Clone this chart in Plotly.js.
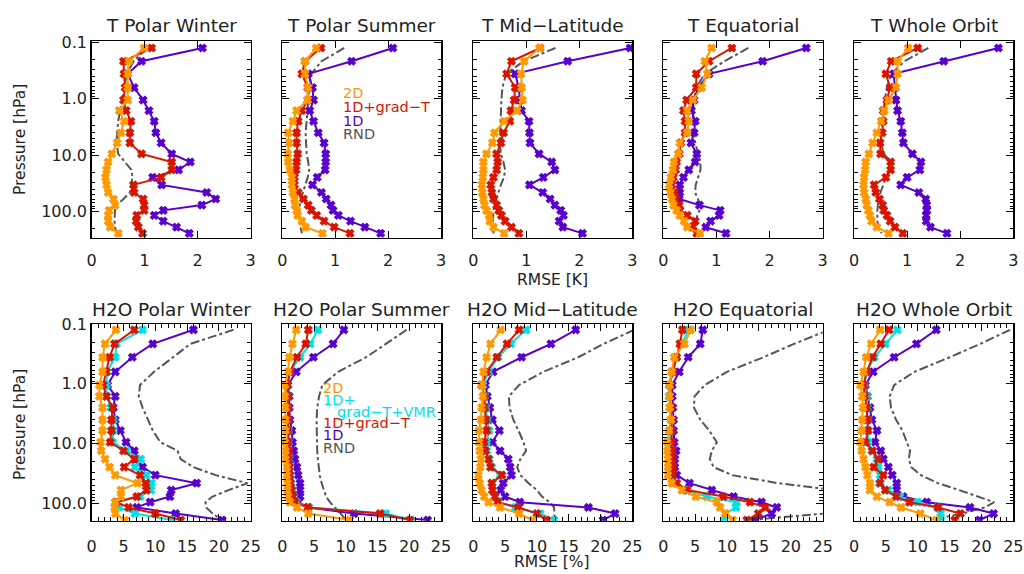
<!DOCTYPE html>
<html><head><meta charset="utf-8">
<script src="https://cdn.plot.ly/plotly-3.0.1.min.js"></script>
<style>html,body{margin:0;padding:0;background:#fff}#c{width:1024px;height:574px}</style>
</head><body><div id="c"></div>
<script>
// Pressure levels [hPa]
const P = [0.125,0.215,0.36,0.63,1.05,1.62,2.5,4.0,6.05,9.5,13.2,18.2,24.8,33.7,46,60,77,95.5,117,148,190,244];
const PH = P.slice(0,21);

const panelTitles = ["T Polar Winter","T Polar Summer","T Mid\u2212Latitude","T Equatorial","T Whole Orbit",
  "H2O Polar Winter","H2O Polar Summer","H2O Mid\u2212Latitude","H2O Equatorial","H2O Whole Orbit"];
const seriesNames = ["2D","1D+grad\u2212T+VMR","1D+grad\u2212T","1D","RND"];

// Temperature RMSE [K]
const T_PW_2D  = [0.99,0.70,0.68,0.68,0.68,0.52,0.61,0.55,0.48,0.38,0.31,0.28,0.26,0.28,0.31,0.41,0.44,0.33,0.31,0.31,0.35,0.50];
const T_PW_1DG = [1.13,0.60,0.61,0.63,0.60,0.65,0.74,0.72,0.72,0.94,1.51,1.51,1.31,0.79,0.80,0.97,0.99,0.99,0.85,0.84,0.88,0.96];
const T_PW_1D  = [2.09,0.94,0.68,0.80,0.97,1.08,1.18,1.21,1.31,1.51,1.86,1.64,1.15,1.32,2.17,2.34,2.08,1.35,1.18,1.35,1.60,1.84];
const T_PW_RND = [1.04,0.79,0.66,0.61,0.57,0.53,0.50,0.48,0.47,0.50,0.63,0.75,0.77,0.75,0.72,0.60,0.47,0.44,0.43,0.43,0.44,0.47];

const T_PS_2D  = [0.64,0.43,0.43,0.49,0.48,0.27,0.20,0.11,0.13,0.10,0.11,0.14,0.18,0.18,0.20,0.23,0.24,0.27,0.29,0.37,0.44,0.76];
const T_PS_1DG = [0.73,0.43,0.37,0.48,0.48,0.37,0.30,0.27,0.27,0.29,0.27,0.26,0.23,0.23,0.30,0.40,0.49,0.55,0.65,0.79,0.98,1.28];
const T_PS_1D  = [2.09,1.31,0.49,0.57,0.59,0.52,0.59,0.68,0.79,0.82,0.82,0.81,0.66,0.57,0.74,0.83,0.92,0.96,1.06,1.29,1.56,1.86];
const T_PS_RND = [1.17,0.74,0.55,0.51,0.49,0.48,0.46,0.44,0.45,0.46,0.49,0.51,0.48,0.43,0.38,0.35,0.33,0.32,0.32,0.32,0.35,0.37];

const T_ML_2D  = [1.25,0.96,0.90,0.91,0.93,0.83,0.58,0.40,0.36,0.25,0.19,0.19,0.18,0.16,0.17,0.19,0.21,0.25,0.30,0.31,0.38,0.58];
const T_ML_1DG = [1.26,0.72,0.63,0.79,0.77,0.71,0.69,0.57,0.52,0.44,0.46,0.44,0.38,0.33,0.35,0.38,0.44,0.48,0.53,0.60,0.72,0.86];
const T_ML_1D  = [2.96,1.78,0.79,0.86,0.88,0.91,1.05,1.06,1.07,1.24,1.48,1.54,1.32,1.06,1.31,1.45,1.54,1.65,1.70,1.62,1.69,2.06];
const T_ML_RND = [1.55,0.95,0.62,0.55,0.53,0.52,0.51,0.50,0.50,0.52,0.57,0.60,0.58,0.52,0.47,0.43,0.40,0.38,0.37,0.37,0.37,0.38];

const T_EQ_2D  = [0.91,0.78,0.83,0.72,0.56,0.45,0.48,0.45,0.31,0.28,0.20,0.18,0.14,0.11,0.13,0.16,0.19,0.25,0.31,0.39,0.45,0.69];
const T_EQ_1DG = [1.29,0.86,0.62,0.62,0.44,0.38,0.41,0.41,0.33,0.30,0.25,0.23,0.19,0.16,0.21,0.23,0.30,0.31,0.45,0.60,0.55,0.63];
const T_EQ_1D  = [2.69,1.87,0.86,0.66,0.58,0.53,0.60,0.58,0.52,0.63,0.60,0.48,0.38,0.31,0.31,0.30,0.68,1.07,1.05,0.89,0.80,1.18];
const T_EQ_RND = [1.60,1.15,0.78,0.62,0.58,0.56,0.56,0.57,0.60,0.65,0.70,0.70,0.66,0.61,0.60,0.65,0.70,0.68,0.64,0.62,0.62,0.62];

const T_WO_2D  = [1.02,0.82,0.82,0.79,0.65,0.57,0.51,0.43,0.35,0.28,0.22,0.21,0.19,0.18,0.19,0.22,0.24,0.27,0.30,0.33,0.43,0.65];
const T_WO_1DG = [1.20,0.70,0.60,0.68,0.62,0.55,0.55,0.53,0.49,0.50,0.69,0.69,0.60,0.38,0.41,0.48,0.54,0.56,0.62,0.68,0.77,0.92];
const T_WO_1D  = [2.72,1.69,0.75,0.77,0.79,0.82,0.88,0.91,0.93,1.10,1.26,1.24,1.00,0.88,1.22,1.35,1.37,1.37,1.36,1.36,1.44,1.75];
const T_WO_RND = [1.40,0.95,0.70,0.62,0.58,0.56,0.53,0.51,0.50,0.57,0.68,0.66,0.60,0.55,0.50,0.47,0.45,0.44,0.44,0.44,0.46,0.52];

// H2O RMSE [%]
const H_PW_2D   = [3.8,2.1,1.7,1.7,1.2,1.2,1.7,1.7,1.7,1.4,1.5,2.1,2.8,3.7,7.2,4.6,4.6,3.7,3.6,3.7,5.2];
const H_PW_1DGV = [8.0,3.9,3.7,2.4,2.3,2.4,3.0,3.4,3.4,3.3,5.5,7.7,6.8,8.6,9.4,9.3,7.6,3.7,4.3,6.8,12.6];
const H_PW_1DG  = [6.7,3.6,2.8,2.3,1.8,2.3,3.3,3.1,3.1,2.9,5.0,6.7,5.1,7.6,8.5,8.6,7.1,3.9,5.8,10.0,14.0];
const H_PW_1D   = [16.0,9.6,6.4,3.7,2.5,3.7,3.4,3.7,4.5,5.4,6.7,7.0,8.0,10.0,16.5,12.5,12.3,9.2,7.1,13.2,20.5];
const H_PW_RND  = [22.3,15.5,12.8,9.8,7.6,7.4,8.0,8.8,9.6,10.8,13.5,14.0,16.0,19.5,24.5,21.5,19.0,17.9,18.0,19.0,20.5];

const H_PS_2D   = [2.2,1.6,1.1,0.9,0.4,0.4,0.5,0.5,0.5,0.4,0.5,0.5,0.7,0.7,0.8,0.8,0.9,1.2,2.3,4.1,10.6];
const H_PS_1DGV = [5.6,4.4,2.8,1.2,0.8,0.9,0.9,0.9,1.0,1.0,1.0,1.1,1.2,1.3,1.4,1.6,1.8,2.2,4.2,16.3,20.3];
const H_PS_1DG  = [4.1,3.7,2.3,1.2,0.8,0.9,0.9,0.9,0.9,0.9,1.0,1.0,1.1,1.2,1.3,1.5,1.7,2.0,4.0,15.4,20.1];
const H_PS_1D   = [9.7,8.0,4.9,2.2,0.9,1.1,1.1,1.2,1.5,1.6,1.8,2.0,2.3,2.5,2.8,2.8,2.8,2.5,4.1,11.3,22.9];
const H_PS_RND  = [19.6,16.3,13.2,8.8,6.3,5.8,5.5,5.4,5.4,5.4,5.5,5.6,5.7,5.9,6.2,6.5,6.9,7.5,8.3,9.2,10.0];

const H_ML_2D   = [4.3,2.7,2.1,1.6,1.4,1.5,1.3,1.2,0.9,0.9,1.0,1.2,1.1,0.8,1.0,1.3,1.7,2.4,4.2,7.2,9.3];
const H_ML_1DGV = [8.3,5.9,3.9,2.4,1.5,1.8,2.0,2.2,2.5,2.1,2.1,2.5,2.9,4.2,3.0,3.1,3.4,3.9,6.6,10.5,12.7];
const H_ML_1DG  = [7.2,5.3,3.7,2.1,1.3,1.7,1.8,2.0,2.1,1.7,1.9,2.4,2.7,4.5,2.9,3.0,3.4,3.8,7.1,10.0,11.5];
const H_ML_1D   = [16.1,12.2,7.6,3.1,1.9,2.2,2.6,3.0,4.1,3.0,4.2,5.5,5.8,6.0,4.7,4.3,5.0,7.3,18.1,22.3,20.4];
const H_ML_RND  = [25.3,20.5,16.5,11.0,7.2,5.6,5.7,6.3,7.1,7.9,8.3,7.4,6.9,7.4,8.7,10.0,10.8,12.0,12.7,12.8,12.8];

const H_EQ_2D   = [4.3,3.3,1.7,1.3,1.0,1.0,1.0,1.2,0.9,0.6,0.6,0.7,0.7,0.7,1.3,2.9,5.1,8.4,8.9,9.8,10.9];
const H_EQ_1DGV = [4.0,2.9,2.1,1.3,0.9,0.9,1.0,1.2,1.2,1.0,0.9,0.9,1.0,1.2,1.6,3.4,6.8,11.5,11.4,9.7,9.6];
const H_EQ_1DG  = [3.0,2.6,2.1,1.5,1.0,1.0,1.2,1.3,1.3,1.3,1.4,1.4,1.5,1.5,2.1,3.7,9.4,13.6,16.0,14.9,13.1];
const H_EQ_1D   = [6.2,5.8,3.9,2.5,1.4,1.4,1.5,1.6,1.6,1.7,2.0,1.8,1.8,2.1,4.1,7.6,11.0,15.4,17.8,17.0,14.4];
const H_EQ_RND  = [26,20.5,15.7,10.0,6.5,4.9,4.8,5.8,7.2,8.4,7.6,7.3,7.9,10.8,18,27,30,30,30,25.5,13.5];

const H_WO_2D   = [4.1,2.7,1.9,1.5,1.0,1.3,1.4,1.3,1.2,1.0,1.2,1.5,1.8,2.1,2.5,2.5,3.6,5.6,7.4,10.4,12.9];
const H_WO_1DGV = [6.8,4.9,3.2,2.0,1.6,2.0,2.1,2.2,2.2,2.2,2.8,3.6,3.8,4.1,4.0,5.4,7.2,10.0,13.1,13.6,13.6];
const H_WO_1DG  = [5.5,4.2,2.9,2.0,1.5,1.7,2.0,2.1,2.2,1.8,2.9,3.8,3.1,4.6,4.1,4.9,6.6,8.7,13.2,16.7,15.8];
const H_WO_1D   = [12.9,9.8,6.3,3.0,1.8,2.1,2.5,2.8,3.6,3.3,4.2,4.6,5.4,6.0,6.7,6.7,7.7,11.4,18.2,21.9,19.7];
const H_WO_RND  = [24.5,19.8,15.0,9.5,6.3,5.6,5.8,6.6,7.6,8.3,8.8,8.6,9.0,10.5,13.2,16.5,19.5,22.0,20.5,17.0,12.0];

const C = {o:'#ff9900', c:'#00e1e6', r:'#d81600', p:'#5a00cc', g:'#555555'};
const FONT = 'DejaVu Sans, sans-serif';
const TXT = '#222222';

const panels = [
  {y:P,  rnd:T_PW_RND, d1:T_PW_1D, g:T_PW_1DG, v:null, d2:T_PW_2D},
  {y:P,  rnd:T_PS_RND, d1:T_PS_1D, g:T_PS_1DG, v:null, d2:T_PS_2D},
  {y:P,  rnd:T_ML_RND, d1:T_ML_1D, g:T_ML_1DG, v:null, d2:T_ML_2D},
  {y:P,  rnd:T_EQ_RND, d1:T_EQ_1D, g:T_EQ_1DG, v:null, d2:T_EQ_2D},
  {y:P,  rnd:T_WO_RND, d1:T_WO_1D, g:T_WO_1DG, v:null, d2:T_WO_2D},
  {y:PH, rnd:H_PW_RND, d1:H_PW_1D, g:H_PW_1DG, v:H_PW_1DGV, d2:H_PW_2D},
  {y:PH, rnd:H_PS_RND, d1:H_PS_1D, g:H_PS_1DG, v:H_PS_1DGV, d2:H_PS_2D},
  {y:PH, rnd:H_ML_RND, d1:H_ML_1D, g:H_ML_1DG, v:H_ML_1DGV, d2:H_ML_2D},
  {y:PH, rnd:H_EQ_RND, d1:H_EQ_1D, g:H_EQ_1DG, v:H_EQ_1DGV, d2:H_EQ_2D},
  {y:PH, rnd:H_WO_RND, d1:H_WO_1D, g:H_WO_1DG, v:H_WO_1DGV, d2:H_WO_2D}
];

const colPx = [[91.7,250.7],[282.3,441],[473.3,632.3],[663.3,822.7],[854,1013.3]];
const rowPx = [[41,237.7],[324,520.7]];
const W = 1024, H = 574;

const traces = [];
const layout = {
  width: W, height: H, margin:{l:0,r:0,t:0,b:0},
  paper_bgcolor:'#fff', plot_bgcolor:'#fff', showlegend:false,
  font:{family:FONT, color:TXT, size:15},
  annotations:[]
};

function line(x, y, color, ax, marker, dash){
  traces.push({x:x, y:y, type:'scatter', mode: marker ? 'lines+markers' : 'lines',
    xaxis:'x'+ax, yaxis:'y'+ax, hoverinfo:'skip', cliponaxis:true,
    line:{color:color, width:2, dash: dash||'solid'},
    marker:{symbol:'x', size:6.5, color:color, line:{width:1.3, color:color}}});
}

const minorLog = [];
[0.1,1,10,100].forEach(d=>{for(let k=2;k<=9;k++) minorLog.push(d*k);});

panels.forEach((pn, i)=>{
  const ax = i+1;
  const row = i<5 ? 0 : 1, col = i%5;
  line(pn.rnd, pn.y, C.g, ax, false, 'dashdot');
  line(pn.d1, pn.y, C.p, ax, true);
  if (pn.v) line(pn.v, pn.y, C.c, ax, true);
  line(pn.g, pn.y, C.r, ax, true);
  line(pn.d2, pn.y, C.o, ax, true);

  const xs = colPx[col], ys = rowPx[row];
  const xa = {
    domain:[xs[0]/W, xs[1]/W], anchor:'y'+ax,
    range: row===0 ? [0,3] : [0,25], autorange:false,
    tickmode:'linear', tick0:0, dtick: row===0 ? 1 : 5,
    ticks:'inside', ticklen:7, tickwidth:1, tickcolor:'#000',
    showline:true, linecolor:'#000', linewidth:1.5, mirror:'allticks',
    showgrid:false, zeroline:false,
    tickfont:{family:FONT, size:16, color:TXT}, ticklabelstandoff: row===0 ? 8 : 11
  };
  if (row===1) xa.minor = {ticks:'inside', ticklen:4, dtick:1, tickcolor:'#000', showgrid:false};
  layout['xaxis'+ax] = xa;
  layout['yaxis'+ax] = {
    domain:[1-ys[1]/H, 1-ys[0]/H], anchor:'x'+ax, type:'log',
    range: row===0 ? [2.465,-1.027] : [2.29,-1.0], autorange:false,
    tickmode:'array', tickvals:[0.1,1,10,100], ticktext:['0.1','1.0','10.0','100.0'],
    showticklabels: col===0,
    ticks:'inside', ticklen:7, tickwidth:1, tickcolor:'#000',
    minor:{ticks:'inside', ticklen:3.5, tickmode:'array', tickvals:minorLog, tickcolor:'#000', showgrid:false},
    showline:true, linecolor:'#000', linewidth:1.5, mirror:'allticks',
    showgrid:false, zeroline:false,
    tickfont:{family:FONT, size:16, color:TXT}
  };
  // panel title
  layout.annotations.push({text:panelTitles[i], xref:'paper', yref:'paper',
    x:(xs[0]+xs[1])/2/W, y:1-(row===0?25.5:309)/H, xanchor:'center', yanchor:'middle',
    showarrow:false, font:{family:FONT, size:18.5, color:TXT}});
});

// axis titles
layout.annotations.push({text:'Pressure [hPa]', xref:'paper', yref:'paper', x:20/W, y:1-140/H,
  textangle:-90, showarrow:false, xanchor:'center', yanchor:'middle', font:{family:FONT,size:15.5,color:TXT}});
layout.annotations.push({text:'Pressure [hPa]', xref:'paper', yref:'paper', x:20/W, y:1-425/H,
  textangle:-90, showarrow:false, xanchor:'center', yanchor:'middle', font:{family:FONT,size:15.5,color:TXT}});
layout.annotations.push({text:'RMSE [K]', xref:'paper', yref:'paper', x:552/W, y:1-280/H,
  showarrow:false, xanchor:'center', yanchor:'middle', font:{family:FONT,size:15.5,color:TXT}});
layout.annotations.push({text:'RMSE [%]', xref:'paper', yref:'paper', x:552/W, y:1-562/H,
  showarrow:false, xanchor:'center', yanchor:'middle', font:{family:FONT,size:15.5,color:TXT}});

// legend labels
const legTop = [[seriesNames[0],C.o,341,93],[seriesNames[2],C.r,341,107],[seriesNames[3],C.p,341,120.5],[seriesNames[4],C.g,341,133.5]];
const legBot = [[seriesNames[0],C.o,321,388],['1D+',C.c,321,400],['grad\u2212T+VMR',C.c,335,411.5],[seriesNames[2],C.r,321,423],[seriesNames[3],C.p,321,435],[seriesNames[4],C.g,321,448]];
legTop.concat(legBot).forEach(l=>{
  layout.annotations.push({text:l[0], xref:'paper', yref:'paper', x:l[2]/W, y:1-l[3]/H,
    xanchor:'left', yanchor:'middle', showarrow:false, font:{family:FONT,size:14.5,color:l[1]}});
});

Plotly.newPlot('c', traces, layout, {staticPlot:true});
</script></body></html>
